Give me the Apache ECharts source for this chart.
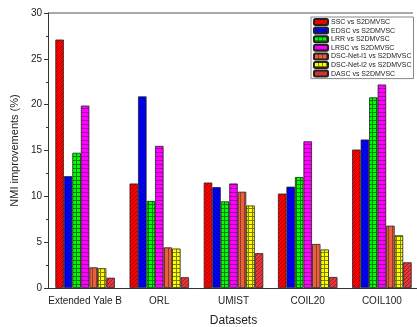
<!DOCTYPE html>
<html><head><meta charset="utf-8">
<script src="https://cdn.jsdelivr.net/npm/echarts@6/dist/echarts.min.js"></script>
<style>html,body{margin:0;padding:0;background:#fff}#c{width:417px;height:327px}</style>
</head><body><div id="c"></div>
<script>
const categories = ['Extended Yale B', 'ORL', 'UMIST', 'COIL20', 'COIL100'];
const seriesNames = ['SSC vs S2DMVSC', 'EDSC vs S2DMVSC', 'LRR vs S2DMVSC', 'LRSC vs S2DMVSC', 'DSC-Net-l1 vs S2DMVSC', 'DSC-Net-l2 vs S2DMVSC', 'DASC vs S2DMVSC'];
const ssc   = [27.1, 11.4, 11.5, 10.3, 15.1];
const edsc  = [12.2, 20.9, 11.0, 11.05, 16.2];
const lrr   = [14.75, 9.5, 9.45, 12.1, 20.8];
const lrsc  = [19.9, 15.5, 11.4, 16.0, 22.2];
const dscl1 = [2.25, 4.43, 10.5, 4.8, 6.8];
const dscl2 = [2.15, 4.3, 9.0, 4.2, 5.75];
const dasc  = [1.12, 1.17, 3.8, 1.2, 2.8];
const yTicks = [0, 5, 10, 15, 20, 25, 30];
const allData = [ssc, edsc, lrr, lrsc, dscl1, dscl2, dasc];

function pattern(bg, fg, type) {
  const s = 4;
  const c = document.createElement('canvas');
  c.width = s; c.height = s;
  const g = c.getContext('2d');
  g.fillStyle = bg; g.fillRect(0, 0, s, s);
  g.strokeStyle = fg; g.lineWidth = 1;
  g.beginPath();
  if (type === 'fwd') { g.moveTo(0, s); g.lineTo(s, 0); g.moveTo(-1, 1); g.lineTo(1, -1); g.moveTo(s-1, s+1); g.lineTo(s+1, s-1); }
  else if (type === 'back') { g.moveTo(0, 0); g.lineTo(s, s); g.moveTo(-1, s-1); g.lineTo(1, s+1); g.moveTo(s-1, -1); g.lineTo(s+1, 1); }
  else if (type === 'horiz') { g.moveTo(0, 0.5); g.lineTo(s, 0.5); }
  else if (type === 'vert') { g.moveTo(0.5, 0); g.lineTo(0.5, s); }
  else if (type === 'grid') { g.moveTo(0, 0.5); g.lineTo(s, 0.5); g.moveTo(0.5, 0); g.lineTo(0.5, s); }
  g.stroke();
  return { image: c, repeat: 'repeat' };
}
const styles = [
  pattern('#ff0000', '#b00000', 'fwd'),
  pattern('#0000ff', '#0000a0', 'back'),
  pattern('#00ff00', '#008000', 'grid'),
  pattern('#ff00ff', '#a000a0', 'horiz'),
  pattern('#e8603c', '#9a3a20', 'vert'),
  pattern('#ffff00', '#808000', 'grid'),
  pattern('#e8353c', '#a02020', 'fwd')
];

const chart = echarts.init(document.getElementById('c'), null, { renderer: 'canvas' });
const font = 'Liberation Sans, Arial, sans-serif';
chart.setOption({
  animation: false,
  textStyle: { fontFamily: font },
  grid: { left: 48, right: -2, top: 13, bottom: 39, containLabel: false, outerBoundsMode: 'none' },
  legend: {
    orient: 'vertical', left: 311, top: 17,
    itemWidth: 14, itemHeight: 6, itemGap: 0.6,
    padding: [1, 2, 1, 2],
    borderColor: '#888', borderWidth: 1,
    textStyle: { fontSize: 7, color: '#222', fontFamily: font, lineHeight: 7, padding: [0, 0, 0, -2] },
    data: seriesNames
  },
  graphic: [{ type: 'line', shape: { x1: 48, y1: 13, x2: 413, y2: 13 }, style: { stroke: '#555', lineWidth: 1 } }],
  xAxis: [{
    type: 'category', data: categories,
    name: 'Datasets', nameLocation: 'middle', nameGap: 27,
    nameTextStyle: { fontSize: 12, color: '#222', fontFamily: font },
    axisLine: { lineStyle: { color: '#333', width: 1 } },
    axisTick: { alignWithLabel: true, length: 4, lineStyle: { color: '#333' } },
    axisLabel: { fontSize: 10, color: '#222', margin: 8, fontFamily: font, interval: 0 }
  }, {
    type: 'category', data: categories, position: 'bottom',
    axisLine: { show: false }, axisLabel: { show: false },
    axisTick: { length: 2, lineStyle: { color: '#333' } }
  }],
  yAxis: {
    type: 'value', min: 0, max: 30, interval: 5,
    name: 'NMI improvements (%)', nameLocation: 'middle', nameGap: 28,
    nameTextStyle: { fontSize: 11, color: '#222', fontFamily: font },
    axisLine: { show: true, lineStyle: { color: '#333' } },
    axisTick: { show: true, length: 4, lineStyle: { color: '#333' } },
    minorTick: { show: true, splitNumber: 2, length: 2, lineStyle: { color: '#333' } },
    splitLine: { show: false },
    axisLabel: { fontSize: 10, color: '#222', margin: 6, fontFamily: font,
      formatter: v => yTicks.includes(v) ? String(v) : '' }
  },
  series: seriesNames.map((n, i) => ({
    name: n, type: 'bar', data: allData[i],
    barWidth: 8.5, barGap: '0%',
    itemStyle: { color: styles[i], borderColor: '#222', borderWidth: 0.8 }
  }))
});
</script></body></html>
